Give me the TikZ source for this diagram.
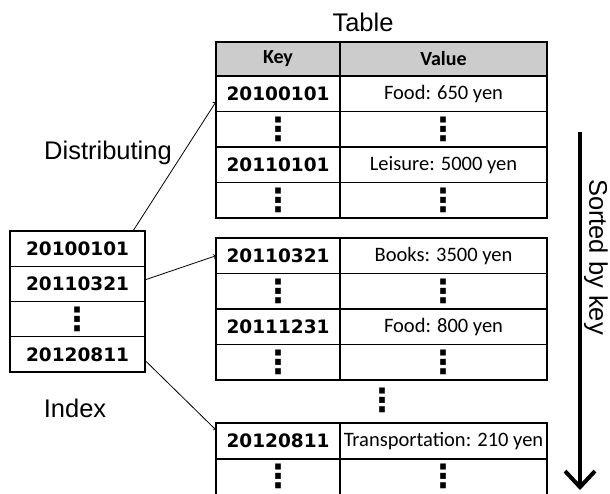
\documentclass[tikz,border=0pt]{standalone}
\usepackage{fontspec}
\setmainfont{Liberation Sans}
\newfontfamily\keyfont{DejaVu Sans}
\newfontfamily\valfont{Carlito}
\usepackage{tikz}
\usetikzlibrary{arrows,arrows.meta,positioning}
\newcommand\kdots{{\keyfont\bfseries\fontsize{32}{32}\selectfont ⋮}}

\begin{document}
\begin{tikzpicture}[x=1pt,y=1pt,>=to,
  cell/.style={draw,line width=1.1pt,inner sep=0pt,outer sep=0pt,minimum height=35.5pt},
  key node/.style={cell,minimum width=124pt,font=\keyfont\bfseries\fontsize{18.5}{20}\selectfont},
  value node/.style={cell,minimum width=207pt,font=\valfont\fontsize{20.5}{22}\selectfont},
  head node/.style={cell,fill=black!20,minimum height=34pt,font=\valfont\bfseries\fontsize{20}{22}\selectfont},
  index node/.style={key node,minimum width=135pt,minimum height=35.25pt},
  label node/.style={font=\fontsize{25.5}{28}\selectfont},
  frame/.style={line width=2.5pt}]
  \useasboundingbox (0,0) rectangle (610,494);

  % first table
  \node[head node,minimum width=124pt,anchor=north west] (kh) at (216,452) {Key};
  \node[head node,minimum width=207pt] (vh) [right=0pt of kh] {Value};
  \node[key node] (k1) [below=0pt of kh] {20100101};
  \node[value node] (v1) [right=0pt of k1] {Food: 650 yen};
  \node[key node] (k2) [below=0pt of k1] {\kdots};
  \node[value node] (v2) [right=0pt of k2] {\kdots};
  \node[key node] (k3) [below=0pt of k2] {20110101};
  \node[value node] (v3) [right=0pt of k3] {Leisure: 5000 yen};
  \node[key node] (k4) [below=0pt of k3] {\kdots};
  \node[value node] (v4) [right=0pt of k4] {\kdots};
  \draw[frame] (kh.north west) rectangle (v4.south east);

  % second table
  \node[key node,anchor=north west] (k5) at (216,256) {20110321};
  \node[value node] (v5) [right=0pt of k5] {Books: 3500 yen};
  \node[key node] (k6) [below=0pt of k5] {\kdots};
  \node[value node] (v6) [right=0pt of k6] {\kdots};
  \node[key node] (k7) [below=0pt of k6] {20111231};
  \node[value node] (v7) [right=0pt of k7] {Food: 800 yen};
  \node[key node] (k8) [below=0pt of k7] {\kdots};
  \node[value node] (v8) [right=0pt of k8] {\kdots};
  \draw[frame] (k5.north west) rectangle (v8.south east);

  \node (gap) at (382,94) {\kdots};

  % third table
  \node[key node,minimum height=36pt,anchor=north west] (k9) at (216,71) {20120811};
  \node[value node,minimum height=36pt] (v9) [right=0pt of k9] {Transportation: 210 yen};
  \node[key node,minimum height=36pt] (k10) [below=0pt of k9] {\raisebox{3pt}{\kdots}};
  \node[value node,minimum height=36pt] (v10) [right=0pt of k10] {\raisebox{3pt}{\kdots}};
  \draw[frame] (k9.north west) rectangle (v10.south east);

  % index
  \node[index node,anchor=north west] (i1) at (10,263) {20100101};
  \node[index node] (i2) [below=0pt of i1] {20110321};
  \node[index node] (i3) [below=0pt of i2] {\kdots};
  \node[index node] (i4) [below=0pt of i3] {20120811};
  \draw[frame] (i1.north west) rectangle (i4.south east);

  % labels
  \node[label node] (table) at (363,472) {Table};
  \node[label node] (dist) at (108,341) {Distributing};
  \node[label node] (index) at (75,86) {Index};
  \node[label node,rotate=-90] (sorted) at (596,237) {Sorted by key};

  \path[->,line width=0.8pt]
    ([xshift=-12pt]i1.north east) edge ([yshift=-8pt]k1.west)
    ([yshift=4pt]i2.east) edge (k5.west)
    ([yshift=-6pt]i4.east) edge ([yshift=11pt]k9.west);

  \coordinate (top) at (580,362);
  \coordinate (bot) at (580,4);
  \draw[line width=4pt,-{Straight Barb[length=16pt,width=30pt]}] (top) -- (bot);
\end{tikzpicture}
\end{document}
